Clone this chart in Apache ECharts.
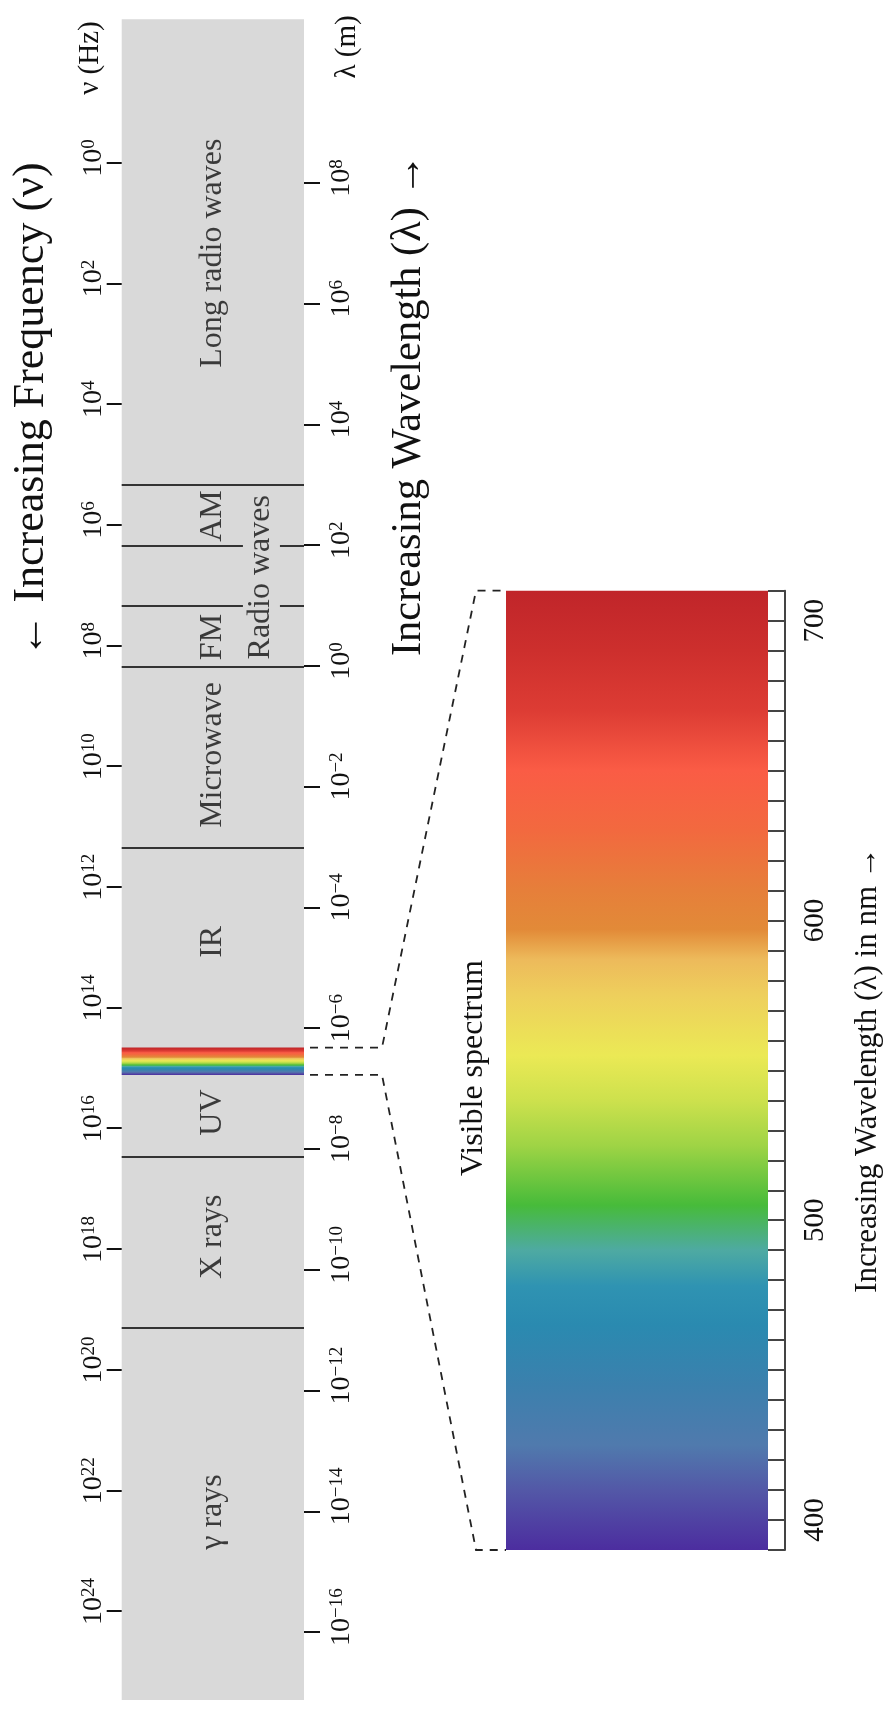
<!DOCTYPE html>
<html><head><meta charset="utf-8">
<script src="https://cdn.jsdelivr.net/npm/echarts@6/dist/echarts.min.js"></script>
<style>html,body{margin:0;padding:0;background:#fff}#c{width:889px;height:1709px}</style>
</head><body><div id="c"></div>
<script>
// ---- data (log10 units) ----
const freqTicks = [0, 2, 4, 6, 8, 10, 12, 14, 16, 18, 20, 22, 24];          // log10(ν / Hz)
const waveTicks = [8, 6, 4, 2, 0, -2, -4, -6, -8, -10, -12, -14, -16];      // log10(λ / m)
const fullBoundaries = [5.34, 8.351, 11.347, 16.484, 19.309];              // band edges, log10 ν
const splitBoundaries = [6.351, 7.34];                                     // AM / FM inner edges
const bandNames   = ['Long radio waves', 'AM', 'FM', 'Radio waves', 'Microwave', 'IR', 'UV', 'X rays', 'γ rays'];
const bandCenters = [1.50, 5.855, 7.86, 6.87, 9.815, 12.912, 15.74, 17.80, 22.36];
const bandAcross  = [0.5, 0.5, 0.5, 0.764, 0.5, 0.5, 0.5, 0.5, 0.5];
const visibleBand = [14.664, 15.117];                                       // log10 ν of the small rainbow
const nmRange = [390, 710];
const nmLabels = [400, 500, 600, 700];
const spectrumNm    = [710, 690, 670, 650, 630, 610, 597, 587, 575, 555, 540, 525, 505, 490, 478, 465, 445, 425, 410, 390];
const spectrumColor = ['#c0252a','#cd2f2d','#dd3c34','#fa5c45','#f2693f','#e67f3a','#e28a38','#edba5b','#eecf5c','#ebe955','#cde14d','#9fd445','#47bb3a','#4eaaa2','#2f93b2','#2a8ab0','#3b80ad','#507aad','#5358a7','#4c2d9f'];

const FONT = '"Liberation Serif", "Times New Roman", serif';
const INK = '#111';

function powLabel(v) {
  const e = Math.round(v);
  const s = e < 0 ? '\u2212' + (-e) : String(e);
  return '{p|' + s + '}{b|10}{s|' + s + '}';
}
const richPow = {
  p: { fontSize: 19, fontFamily: FONT, color: 'rgba(0,0,0,0)', lineHeight: 19 },
  b: { fontSize: 28, fontFamily: FONT, color: INK, verticalAlign: 'bottom', lineHeight: 28 },
  s: { fontSize: 19, fontFamily: FONT, color: INK, verticalAlign: 'top', lineHeight: 19, padding: [0, 0, 17, 0] }
};
function gradient() {
  const span = nmRange[1] - nmRange[0];
  return { type: 'linear', x: 0, y: 0, x2: 0, y2: 1,
    colorStops: spectrumNm.map((nm, i) => ({ offset: (nmRange[1] - nm) / span, color: spectrumColor[i] })) };
}

const chart = echarts.init(document.getElementById('c'), null, { renderer: 'canvas', width: 889, height: 1709 });

const option = {
  animation: false,
  backgroundColor: '#fff',
  grid: [
    { left: 121.7, top: 19.3, width: 182.3, height: 1680.7, show: true, backgroundColor: '#d9d9d9', borderWidth: 0 },
    { left: 506, top: 590.7, width: 262, height: 959.3, show: false }
  ],
  xAxis: [
    { gridIndex: 0, type: 'value', min: 0, max: 1, show: false },
    { gridIndex: 1, type: 'value', min: 0, max: 1, show: false }
  ],
  yAxis: [
    { gridIndex: 0, type: 'value', min: -2.376, max: 25.475, inverse: true, position: 'left',
      axisLine: { show: false, onZero: false }, splitLine: { show: false },
      axisTick: { show: true, customValues: freqTicks, length: 15, lineStyle: { color: INK, width: 2 } },
      axisLabel: { show: true, customValues: freqTicks, rotate: 90, margin: 14, formatter: powLabel, rich: richPow } },
    { gridIndex: 0, type: 'value', min: -17.125, max: 10.706, position: 'right',
      axisLine: { show: false, onZero: false }, splitLine: { show: false },
      axisTick: { show: true, customValues: waveTicks, length: 16, lineStyle: { color: INK, width: 2 } },
      axisLabel: { show: true, customValues: waveTicks, rotate: 90, margin: 24, formatter: powLabel, rich: richPow } },
    { gridIndex: 1, type: 'value', min: nmRange[0], max: nmRange[1], interval: 10, position: 'right', offset: 17,
      axisLine: { show: true, onZero: false, lineStyle: { color: '#444', width: 2 } }, splitLine: { show: false },
      axisTick: { show: true, inside: true, length: 17, lineStyle: { color: '#444', width: 2 } },
      axisLabel: { show: true, customValues: nmLabels, rotate: 90, margin: 16, color: INK, fontFamily: FONT, fontSize: 29 } }
  ],
  series: [
    { type: 'scatter', xAxisIndex: 0, yAxisIndex: 0, symbolSize: 0, silent: true,
      data: bandNames.map((n, i) => ({ name: n, value: [bandAcross[i], bandCenters[i]] })),
      label: { show: true, position: 'inside', rotate: 90, formatter: '{b}', fontFamily: FONT, fontSize: 32, color: INK },
      markLine: { silent: true, symbol: ['none', 'none'], label: { show: false },
        lineStyle: { color: '#333', width: 2, type: 'solid' },
        data: fullBoundaries.map(v => ({ yAxis: v }))
          .concat(splitBoundaries.map(v => [{ coord: [0, v] }, { coord: [0.665, v] }]))
          .concat(splitBoundaries.map(v => [{ coord: [0.868, v] }, { coord: [1, v] }])) },
      markArea: { silent: true, label: { show: false },
        itemStyle: { color: gradient() },
        data: [[{ yAxis: visibleBand[0] }, { yAxis: visibleBand[1] }]] } },
    { type: 'scatter', xAxisIndex: 1, yAxisIndex: 2, symbolSize: 0, silent: true, data: [],
      markArea: { silent: true, label: { show: false },
        itemStyle: { color: gradient() },
        data: [[{ yAxis: nmRange[1] }, { yAxis: nmRange[0] }]] } }
  ]
};
chart.setOption(option);

const bTop = chart.convertToPixel({ xAxisIndex: 0, yAxisIndex: 0 }, [1, visibleBand[0]]);
const bBot = chart.convertToPixel({ xAxisIndex: 0, yAxisIndex: 0 }, [1, visibleBand[1]]);
const vTop = chart.convertToPixel({ xAxisIndex: 1, yAxisIndex: 2 }, [0, nmRange[1]]);
const vBot = chart.convertToPixel({ xAxisIndex: 1, yAxisIndex: 2 }, [0, nmRange[0]]);
const dash = { stroke: '#222', lineWidth: 1.8, lineDash: [8, 7], fill: null };
function vtext(id, x, y, text, size) {
  return { type: 'text', id: id, x: x, y: y, rotation: Math.PI / 2, silent: true,
    style: { text: text, fontFamily: FONT, fontSize: size, fill: INK, align: 'center', verticalAlign: 'middle' } };
}
chart.setOption({
  graphic: { elements: [
    { type: 'polyline', id: 'c1', silent: true, style: dash,
      shape: { points: [[bTop[0] + 6, bTop[1]], [bTop[0] + 78, bTop[1]], [vTop[0] - 30, vTop[1]], [vTop[0], vTop[1]]] } },
    { type: 'polyline', id: 'c2', silent: true, style: dash,
      shape: { points: [[bBot[0] + 6, bBot[1]], [bBot[0] + 78, bBot[1]], [vBot[0] - 30, vBot[1]], [vBot[0], vBot[1]]] } },
    vtext('t1', 31, 410, '\u2190 Increasing Frequency (\u03bd)', 44),
    vtext('t2', 409, 405, 'Increasing Wavelength (\u03bb) \u2192', 42.5),
    vtext('t3', 90, 58, '\u03bd (Hz)', 29),
    vtext('t4', 347, 47, '\u03bb (m)', 29),
    vtext('t5', 474, 1068, 'Visible spectrum', 32),
    vtext('t6', 868, 1070, 'Increasing Wavelength (\u03bb) in nm \u2192', 31)
  ] }
});
</script>
</body></html>
